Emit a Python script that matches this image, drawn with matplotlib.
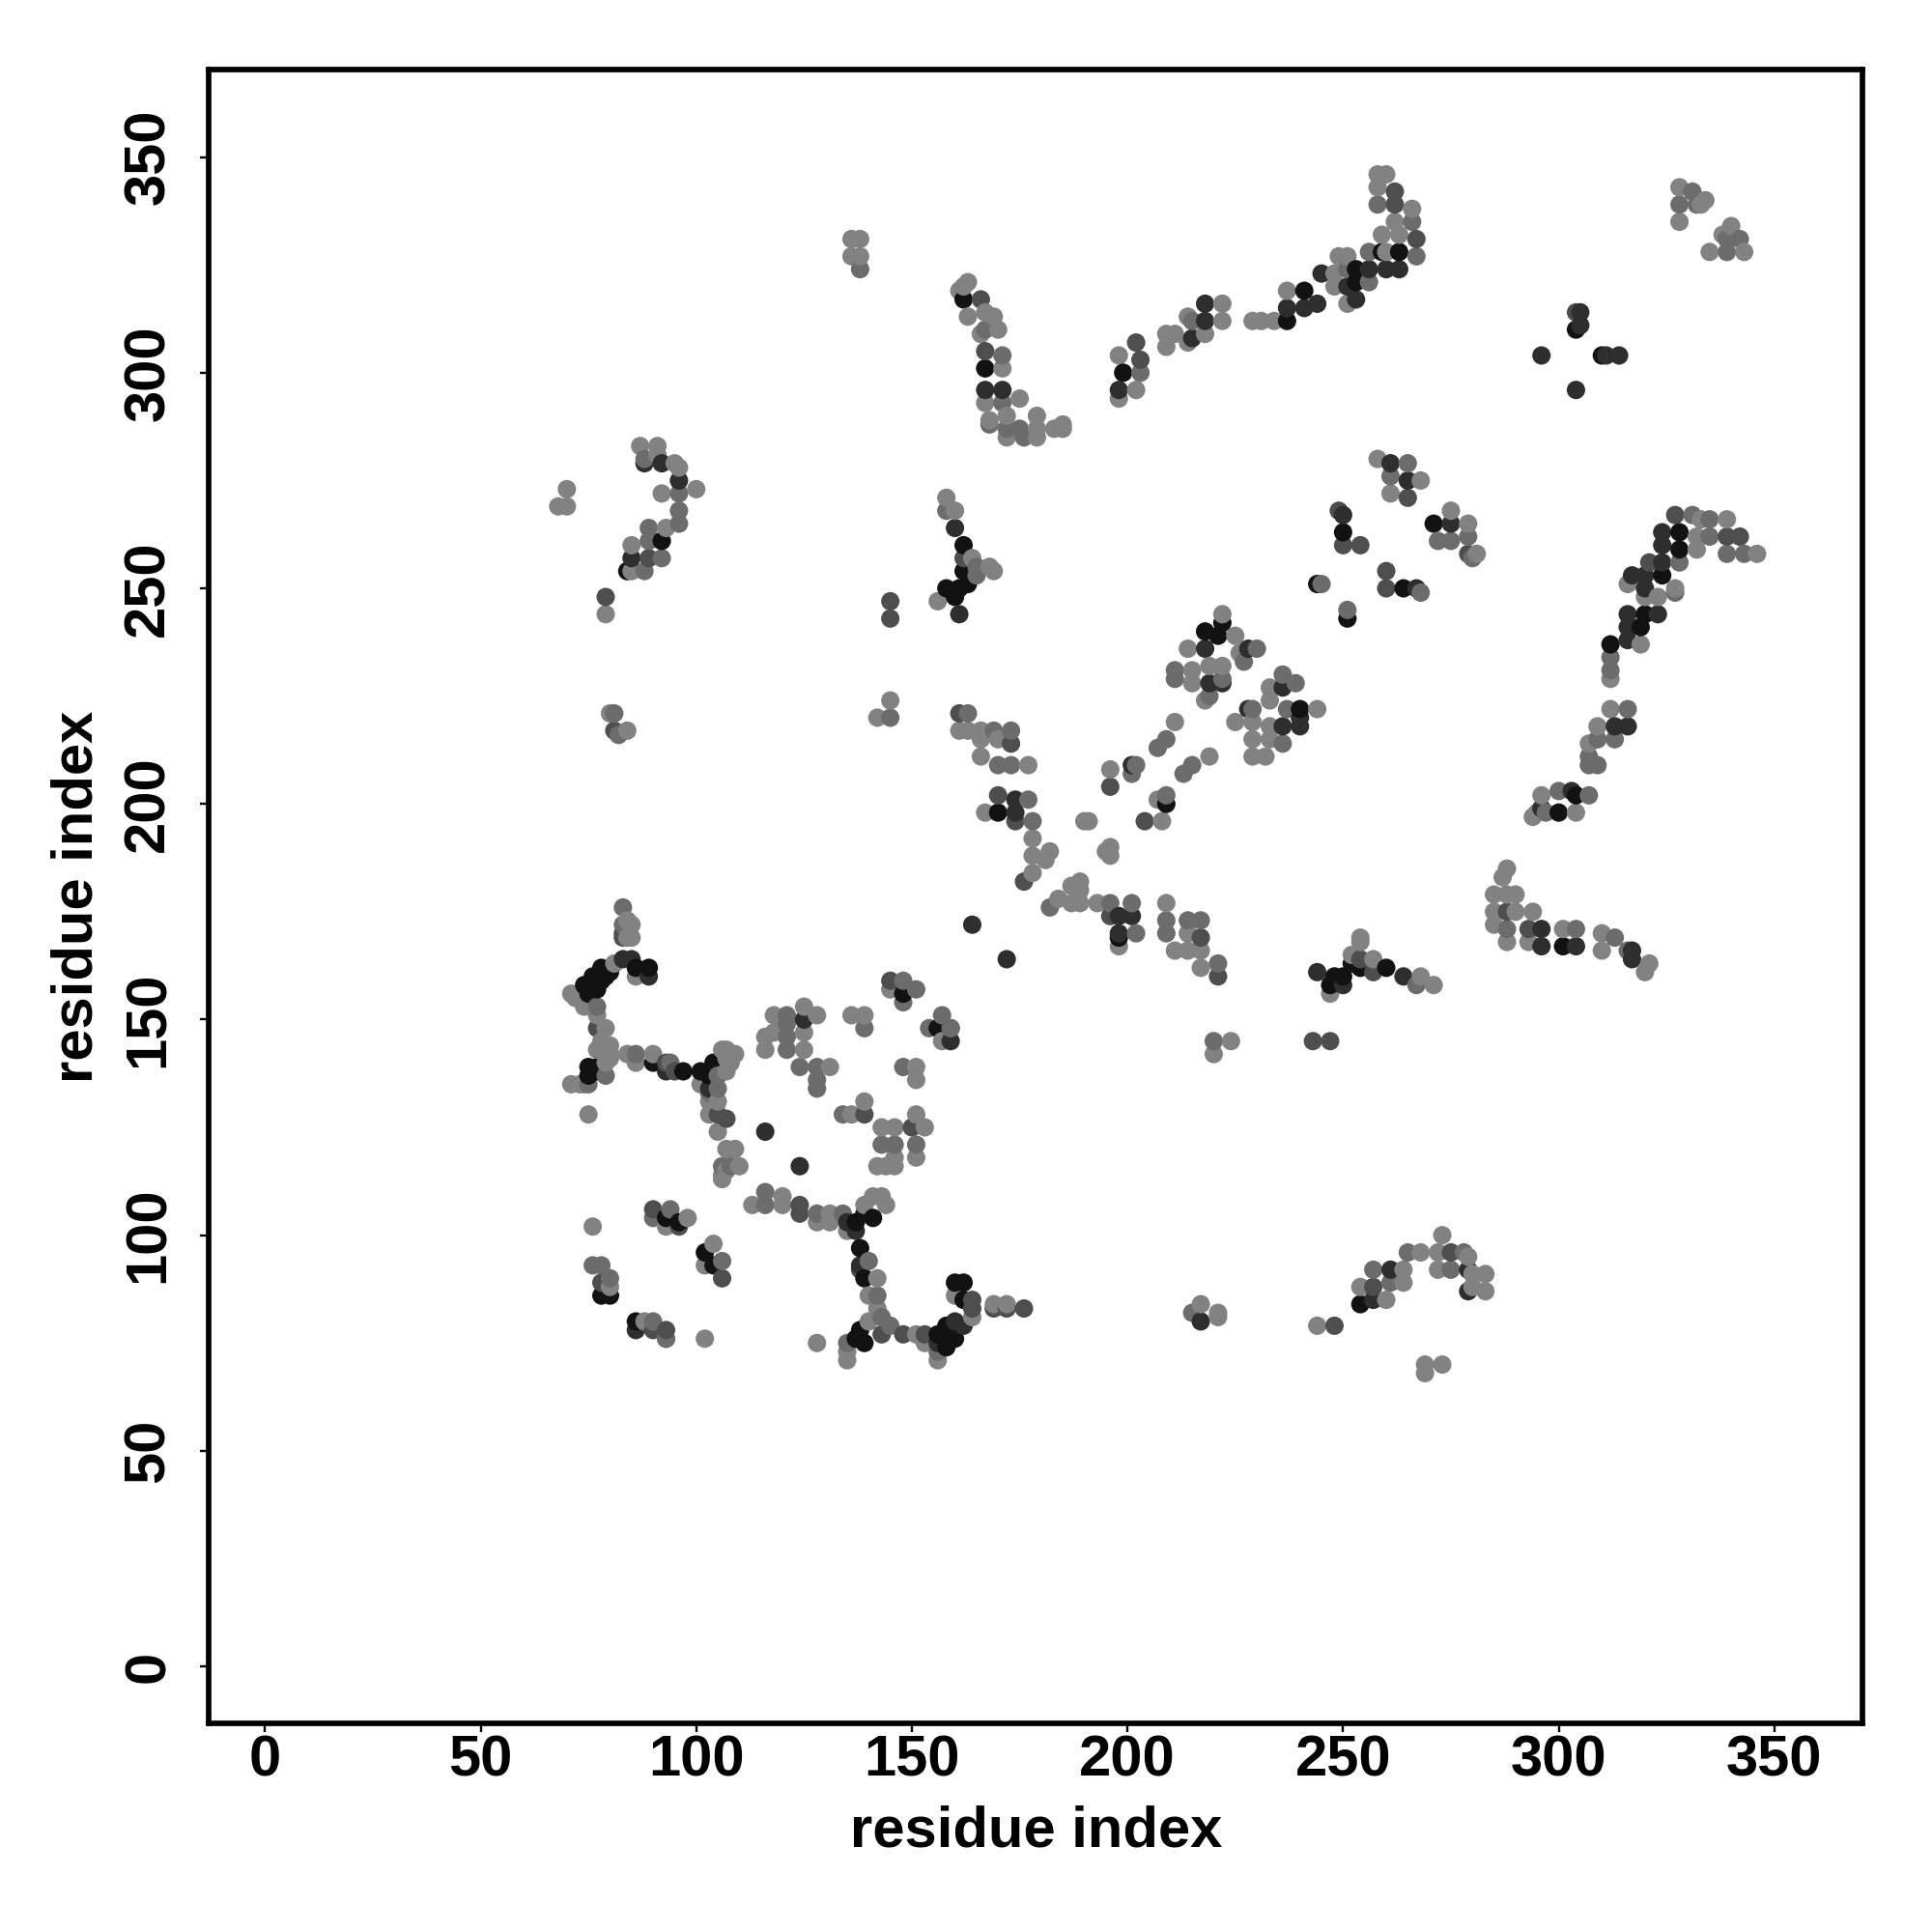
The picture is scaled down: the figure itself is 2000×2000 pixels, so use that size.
import matplotlib
matplotlib.use("Agg")
import matplotlib.pyplot as plt
import numpy as np

plt.rcParams['font.family'] = ['Liberation Sans', 'DejaVu Sans']
plt.rcParams['font.weight'] = 'bold'

tick_values = [0, 50, 100, 150, 200, 250, 300, 350]
axis_label = "residue index"

# contacts, (i, j), one list per grey level
black = [(74,158),(76,160),(77,157),(75,156),(78,159),(78,162),(80,161),(76,158),(79,160),(86,162),(89,162),
         (90,140),(97,138),(75,139),(77,139),(75,137),(77,138),(76,138),(103,138),(104,140),(101,138),(103,137),
         (148,156),(156,148),(137,103),(139,105),(141,104),(93,104),(96,103),(102,96),(104,93),(78,86),(80,86),(86,80),
         (138,97),(139,90),(138,78),(139,75),(137,76),(156,77),(158,79),(158,74),(160,76),(160,89),(162,89),(162,85),
         (198,169),(248,160),(247,158),(250,160),(252,163),(254,162),(260,162),(301,167),(254,84),
         (167,301),(199,300),(237,312),(241,319),(253,324),(253,321),(259,328),(263,328),(162,317),
         (162,260),(162,254),(163,251),(161,250),(158,250),(160,248),(84,254),(92,261),
         (222,242),(218,240),(221,239),(240,222),(209,200),(170,198),(250,263),(264,250),(251,243),(244,251),
         (271,265),(304,310),(310,304),(328,263),(328,259),(324,253),(320,244),(319,241),(312,237),(304,202),(300,198)]
dark = [(83,164),(85,164),(89,160),(93,138),(103,134),(125,150),(159,145),(135,103),(137,101),(86,78),(138,93),
        (156,75),(160,80),(162,79),(116,124),(124,116),(164,172),(172,164),(198,174),(201,174),(198,170),
        (244,161),(250,158),(264,160),(296,171),(296,167),(304,167),(217,80),(257,85),(261,92),(279,92),(279,87),
        (167,296),(171,296),(198,296),(215,308),(218,316),(218,312),(237,315),(241,315),(244,316),(245,323),
        (251,320),(253,317),(256,324),(260,324),(263,324),(160,264),(161,244),(88,279),(92,279),(96,275),(85,257),
        (174,201),(174,198),(218,236),(228,236),(219,228),(222,228),(236,227),(240,220),(236,218),(240,218),(228,222),
        (250,267),(201,209),(267,250),(265,275),(261,279),(305,314),(305,311),(296,304),(304,296),(311,304),(314,304),
        (275,265),(324,263),(324,260),(324,256),(320,253),(317,253),(320,250),(323,244),(316,244),(316,241),(316,238),
        (313,218),(316,218),(303,203),(296,199),(317,166),(317,164)]
middark = [(83,170),(83,169),(77,148),(93,140),(95,138),(105,128),(107,127),(145,159),(159,148),(139,128),(150,125),
           (90,106),(96,102),(106,90),(78,89),(90,78),(93,78),(124,107),(124,105),(143,77),(148,77),(153,77),
           (164,85),(164,83),(138,92),(169,83),(172,83),(176,83),(196,174),(217,169),(221,160),(243,145),(247,145),
           (254,164),(257,161),(288,175),(293,171),(248,79),(257,88),(275,96),(166,317),(167,305),(203,303),(202,307),
           (267,331),(262,339),(262,342),(162,257),(145,247),(145,243),(79,248),(81,217),(89,257),(161,221),(173,214),
           (170,202),(174,196),(196,204),(204,196),(176,182),(249,268),(250,260),(254,260),(260,254),(260,250),(265,271),
           (327,267),(339,262),(342,262),(279,258),(304,314),(321,256)]
mid = [(83,176),(83,172),(77,153),(86,142),(94,140),(79,137),(75,135),(105,134),(105,137),(103,133),(106,116),
       (108,116),(121,151),(121,146),(121,143),(124,139),(128,139),(128,136),(128,134),(121,149),(139,148),(148,159),
       (148,154),(151,157),(157,151),(154,148),(159,148),(148,139),(134,128),(143,121),(146,121),(151,121),(90,104),
       (94,106),(106,94),(76,93),(78,93),(80,90),(90,80),(93,76),(93,76),(116,110),(116,107),(128,105),(134,105),(140,94),
       (142,86),(145,79),(143,81),(135,75),(156,73),(201,177),(202,170),(196,177),(182,176),(209,173),(209,170),(214,173),
       (217,173),(221,163),(220,145),(267,158),(304,171),(288,171),(215,82),(257,92),(261,89),(265,96),(275,92),(278,96),
       (138,324),(167,310),(171,304),(171,293),(168,288),(172,287),(175,287),(176,285),(203,300),(215,312),(251,324),
       (256,321),(256,328),(267,327),(266,335),(258,339),(158,268),(165,255),(165,253),(81,221),(82,216),(88,280),
       (96,272),(96,268),(96,265),(89,264),(89,261),(92,257),(88,254),(145,220),(163,221),(169,217),(173,217),(170,209),
       (173,209),(177,201),(178,196),(202,209),(201,207),(209,215),(207,213),(215,209),(213,207),(209,202),(222,229),
       (219,225),(211,231),(211,229),(227,233),(230,236),(236,230),(239,228),(237,222),(229,222),(236,214),(245,251),
       (268,249),(251,245),(261,276),(265,279),(328,339),(331,342),(332,339),(342,331),(339,331),(339,328),(280,257),
       (272,261),(275,261),(279,262),(331,267),(335,266),(335,262),(339,258),(343,258),(328,256),(327,249),(312,234),
       (312,231),(316,222),(313,215),(309,215),(307,211),(309,209),(307,209),(300,203),(307,202),(297,198),(313,169),(316,166)]
light = [(84,173),(85,172),(85,169),(84,169),(71,156),(72,155),(73,155),(81,163),(86,160),(74,153),(77,151),(75,154),
         (79,148),(77,143),(80,144),(80,142),(79,140),(78,145),(84,142),(86,140),(90,142),(71,135),(73,135),(74,135),
         (80,141),(75,128),(107,143),(109,142),(106,143),(107,141),(108,140),(101,135),(107,138),(103,131),(105,131),
         (103,128),(105,124),(107,120),(109,120),(110,116),(106,114),(106,113),(107,115),(118,151),(125,153),(128,151),
         (116,146),(116,143),(118,147),(125,147),(125,143),(131,139),(120,148),(136,151),(139,151),(145,157),(157,145),
         (151,139),(151,136),(139,131),(136,128),(151,128),(143,125),(146,125),(153,125),(151,118),(142,116),(144,116),
         (146,116),(146,118),(113,107),(120,109),(120,107),(128,103),(131,105),(131,103),(135,101),(139,107),(141,109),
         (143,109),(144,107),(98,104),(93,102),(104,98),(102,93),(76,102),(80,88),(88,80),(102,76),(128,75),(142,90),
         (140,86),(142,83),(140,80),(135,73),(135,71),(151,77),(153,75),(156,71),(160,86),(164,81),(169,84),(172,84),
         (184,178),(189,182),(187,181),(189,180),(189,177),(187,177),(193,177),(198,167),(209,177),(211,166),(214,170),
         (214,166),(217,166),(217,162),(220,142),(224,145),(247,156),(254,168),(254,169),(252,165),(257,164),(268,160),
         (271,158),(288,185),(287,183),(285,179),(290,179),(285,175),(285,172),(288,179),(290,175),(294,175),(288,168),
         (293,168),(301,171),(310,170),(310,166),(321,163),(320,161),(217,84),(221,82),(221,81),(244,79),(254,88),(260,85),
         (264,89),(264,92),(268,96),(273,100),(272,96),(272,92),(279,95),(280,91),(283,91),(280,88),(283,87),(269,70),
         (269,68),(273,70),(136,331),(138,331),(136,327),(138,327),(162,320),(161,319),(163,321),(163,313),(167,314),
         (169,313),(170,310),(166,309),(171,301),(167,293),(175,294),(168,289),(172,290),(172,285),(179,290),(179,287),
         (179,285),(183,287),(185,288),(185,287),(198,304),(202,296),(198,294),(209,309),(209,306),(211,309),(214,307),
         (214,313),(222,316),(222,312),(218,309),(229,312),(231,312),(234,312),(237,319),(248,320),(248,323),(249,327),
         (251,327),(251,316),(260,328),(259,332),(263,332),(266,338),(262,335),(258,346),(258,343),(260,346),(158,271),
         (160,268),(164,257),(168,255),(169,254),(156,247),(145,224),(142,220),(70,273),(68,269),(70,269),(79,244),
         (80,221),(84,217),(87,283),(91,283),(91,281),(95,279),(96,278),(92,272),(100,273),(93,264),(85,260),(85,254),
         (161,217),(163,217),(166,217),(170,215),(166,215),(166,211),(177,209),(167,198),(178,192),(178,188),(182,189),
         (181,187),(178,184),(211,219),(196,208),(219,211),(208,196),(207,201),(190,196),(191,196),(196,190),(196,188),
         (195,189),(222,244),(225,239),(214,236),(226,235),(215,231),(215,228),(219,232),(222,232),(218,224),(233,227),
         (233,224),(244,222),(229,219),(225,219),(233,218),(229,215),(233,215),(229,211),(232,211),(258,280),(261,272),
         (268,275),(328,343),(328,335),(334,340),(333,339),(340,334),(338,332),(335,328),(343,328),(275,268),(279,265),
         (281,258),(333,266),(339,266),(332,262),(332,259),(346,258),(316,251),(327,250),(323,248),(320,248),(319,237),
         (312,229),(312,222),(309,218),(307,214),(296,202),(294,197),(304,198),(295,198)]

grey_black = "#121212"
grey_dark = "#2e2e2e"
grey_middark = "#4e4e4e"
grey_mid = "#6c6c6c"
grey_light = "#828282"

groups = [(black, grey_black), (dark, grey_dark), (middark, grey_middark), (mid, grey_mid), (light, grey_light)]
xs = []
ys = []
cols = []
for pts, c in groups:
    for px, py in pts:
        xs.append(px)
        ys.append(py)
        cols.append(c)
xs = np.array(xs)
ys = np.array(ys)
cols = np.array(cols)

# later residues sit on top of earlier ones in the picture
order = np.lexsort((ys, xs))

fig = plt.figure(figsize=(10, 10), dpi=200)
ax = fig.add_axes([0.10815, 0.108, 0.856, 0.856])
ax.scatter(xs[order], ys[order], c=cols[order], s=47, linewidths=0)

ax.set_xlim(-13, 370.5)
ax.set_ylim(-13.2, 370.3)
ax.set_xticks(tick_values)
ax.set_yticks(tick_values)
ax.tick_params(axis='both', length=3.2, width=0.85, labelsize=21.5)
ax.tick_params(axis='x', pad=1)
ax.tick_params(axis='y', pad=9.2)
for label in ax.get_yticklabels():
    label.set_rotation(90)
    label.set_va('center')
for spine in ax.spines.values():
    spine.set_linewidth(2.05)

ax.set_xlabel(axis_label, fontsize=21.5, fontweight='bold', labelpad=6.3)
ax.set_ylabel(axis_label, fontsize=21.5, fontweight='bold', labelpad=7)

fig.savefig("out.png", dpi=200, facecolor='white')
